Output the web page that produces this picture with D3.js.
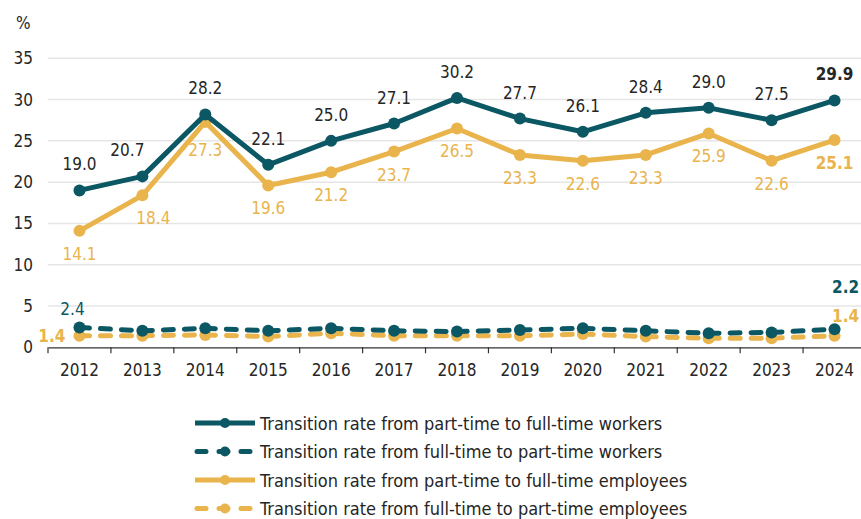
<!DOCTYPE html>
<html>
<head>
<meta charset="utf-8">
<script src="https://cdn.jsdelivr.net/npm/d3@7/dist/d3.min.js"></script>
<style>
  html, body { margin: 0; padding: 0; background: #fff; }
  svg { display: block; }
  text { font-family: "DejaVu Sans Condensed", "DejaVu Sans", sans-serif; }
</style>
</head>
<body>
<svg id="chart" width="861" height="519"></svg>
<script>
// Transition rates between part-time and full-time work, 2012–2024 (%)
const years = ["2012","2013","2014","2015","2016","2017","2018","2019","2020","2021","2022","2023","2024"];
const ptToFtWorkers   = [19.0, 20.7, 28.2, 22.1, 25.0, 27.1, 30.2, 27.7, 26.1, 28.4, 29.0, 27.5, 29.9];
const ftToPtWorkers   = [2.4, 2.0, 2.3, 2.0, 2.3, 2.0, 1.9, 2.1, 2.3, 2.0, 1.7, 1.8, 2.2];
const ptToFtEmployees = [14.1, 18.4, 27.3, 19.6, 21.2, 23.7, 26.5, 23.3, 22.6, 23.3, 25.9, 22.6, 25.1];
const ftToPtEmployees = [1.4, 1.4, 1.5, 1.3, 1.7, 1.4, 1.4, 1.4, 1.6, 1.3, 1.1, 1.1, 1.4];
const yTicks = [0, 5, 10, 15, 20, 25, 30, 35];
const seriesNames = [
  "Transition rate from part-time to full-time workers",
  "Transition rate from full-time to part-time workers",
  "Transition rate from part-time to full-time employees",
  "Transition rate from full-time to part-time employees"
];

const TEAL = "#0b5763";
const GOLD = "#e9b44c";
const INK = "#262626";
const FONT = "\"DejaVu Sans Condensed\", \"DejaVu Sans\", sans-serif";

const svg = d3.select("#chart");

const x = d3.scaleBand().domain(years).range([48, 866]);
const y = d3.scaleLinear().domain([0, 35]).range([347.3, 58.3]);
const cx = d => x(d) + x.bandwidth() / 2;

// Horizontal gridlines
svg.append("g")
  .selectAll("line")
  .data(yTicks.filter(t => t > 0))
  .join("line")
  .attr("x1", 48).attr("x2", 866)
  .attr("y1", d => y(d)).attr("y2", d => y(d))
  .attr("stroke", "#e6e6e6").attr("stroke-width", 1.5);

// Y axis labels
const yAxis = svg.append("g")
  .attr("transform", "translate(48,0)")
  .call(d3.axisLeft(y).tickValues(yTicks).tickSize(0).tickPadding(15));
yAxis.select(".domain").remove();
yAxis.selectAll("text").attr("font-size", 17).attr("fill", INK).style("font-family", FONT);

svg.append("text").attr("x", 16).attr("y", 29)
  .attr("font-size", 17).attr("fill", INK).text("%");

// X axis with ticks at category boundaries
const xAxis = svg.append("g")
  .attr("transform", `translate(0,${y(0)})`)
  .call(d3.axisBottom(x).tickSize(0).tickPadding(17));
xAxis.select(".domain").attr("stroke", "#333").attr("stroke-width", 1.2);
xAxis.selectAll("text").attr("font-size", 17).attr("fill", INK).style("font-family", FONT);
xAxis.append("g").selectAll("line")
  .data(years)
  .join("line")
  .attr("x1", d => x(d)).attr("x2", d => x(d))
  .attr("y1", 0).attr("y2", 6)
  .attr("stroke", "#333").attr("stroke-width", 1.2);

const series = [
  { values: ptToFtWorkers,   color: TEAL, dashed: false },
  { values: ftToPtWorkers,   color: TEAL, dashed: true },
  { values: ptToFtEmployees, color: GOLD, dashed: false },
  { values: ftToPtEmployees, color: GOLD, dashed: true }
];

const line = d3.line().x((d, i) => cx(years[i])).y(d => y(d));

// Dashed (low) series first, then the solid ones; gold beneath teal
const drawOrder = [3, 1, 2, 0];
drawOrder.forEach(k => {
  const s = series[k];
  const g = svg.append("g");
  g.append("path")
    .datum(s.values)
    .attr("d", line)
    .attr("fill", "none")
    .attr("stroke", s.color)
    .attr("stroke-width", 5)
    .attr("stroke-linejoin", "round")
    .attr("stroke-linecap", s.dashed ? "round" : "butt")
    .attr("stroke-dasharray", s.dashed ? "10,11" : null);
  g.selectAll("circle")
    .data(s.values)
    .join("circle")
    .attr("cx", (d, i) => cx(years[i]))
    .attr("cy", d => y(d))
    .attr("r", 6)
    .attr("fill", s.color);
});

// Value labels for the solid series
const fmt = d3.format(".1f");
const last = years.length - 1;
const labelShift = { "2013": { above: -15, below: 11 } };

svg.append("g").selectAll("text")
  .data(ptToFtWorkers)
  .join("text")
  .attr("x", (d, i) => cx(years[i]) + ((labelShift[years[i]] || {}).above || 0))
  .attr("y", (d, i) => y(d) - 20)
  .attr("text-anchor", "middle")
  .attr("font-size", 17)
  .attr("font-weight", (d, i) => i === last ? "bold" : null)
  .attr("fill", INK)
  .text(fmt);

svg.append("g").selectAll("text")
  .data(ptToFtEmployees)
  .join("text")
  .attr("x", (d, i) => cx(years[i]) + ((labelShift[years[i]] || {}).below || 0))
  .attr("y", (d, i) => y(d) + (years[i] === "2014" ? 34 : 29))
  .attr("text-anchor", "middle")
  .attr("font-size", 17)
  .attr("font-weight", (d, i) => i === last ? "bold" : null)
  .attr("fill", GOLD)
  .text(fmt);

// First and last labels for the dashed series
svg.append("text")
  .attr("x", cx(years[0]) - 7).attr("y", y(ftToPtWorkers[0]) - 12)
  .attr("text-anchor", "middle").attr("font-size", 17).attr("fill", TEAL)
  .text(fmt(ftToPtWorkers[0]));
svg.append("text")
  .attr("x", cx(years[0]) - 14).attr("y", y(ftToPtEmployees[0]) + 6)
  .attr("text-anchor", "end").attr("font-size", 17).attr("font-weight", "bold").attr("fill", GOLD)
  .text(fmt(ftToPtEmployees[0]));
svg.append("text")
  .attr("x", cx(years[last]) + 11).attr("y", y(ftToPtWorkers[last]) - 36)
  .attr("text-anchor", "middle").attr("font-size", 17).attr("font-weight", "bold").attr("fill", TEAL)
  .text(fmt(ftToPtWorkers[last]));
svg.append("text")
  .attr("x", cx(years[last]) + 11).attr("y", y(ftToPtEmployees[last]) - 14)
  .attr("text-anchor", "middle").attr("font-size", 17).attr("font-weight", "bold").attr("fill", GOLD)
  .text(fmt(ftToPtEmployees[last]));

// Legend
const legend = svg.append("g");
seriesNames.forEach((name, k) => {
  const s = series[k];
  const ly = 423 + k * 28.5;
  legend.append("line")
    .attr("x1", s.dashed ? 197 : 195).attr("x2", s.dashed ? 253 : 255)
    .attr("y1", ly).attr("y2", ly)
    .attr("stroke", s.color).attr("stroke-width", 5)
    .attr("stroke-linecap", s.dashed ? "round" : "butt")
    .attr("stroke-dasharray", s.dashed ? "9,13" : null);
  legend.append("circle").attr("cx", 225).attr("cy", ly).attr("r", 5).attr("fill", s.color);
  legend.append("text")
    .attr("x", 260).attr("y", ly + 6.5)
    .attr("font-size", 18).attr("fill", INK)
    .text(name);
});
</script>
</body>
</html>
